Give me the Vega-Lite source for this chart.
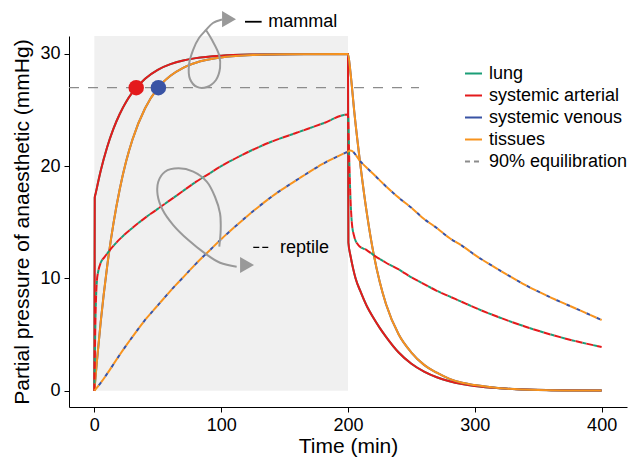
{
  "$schema": "https://vega.github.io/schema/vega-lite/v6.json",
  "width": 558,
  "height": 371,
  "autosize": {"type": "none"},
  "padding": {"left": 69, "top": 36, "right": 5, "bottom": 53},
  "config": {
    "view": {"stroke": null},
    "font": "Liberation Sans",
    "axis": {
      "grid": false,
      "domainColor": "#000000",
      "domainWidth": 1,
      "tickColor": "#000000",
      "tickSize": 5,
      "labelColor": "#000000",
      "titleColor": "#000000",
      "labelFontSize": 18,
      "titleFontSize": 21,
      "titleFontWeight": "normal",
      "labelPadding": 4
    }
  },
  "datasets": {
    "ma": [
      {"t":0,"p":0},{"t":0.3,"p":17.2},{"t":1,"p":17.56},{"t":5,"p":19.59},{"t":10,"p":21.66},{"t":15,"p":23.32},{"t":20,"p":24.65},{"t":25,"p":25.72},{"t":30,"p":26.57},{"t":40,"p":27.8},{"t":50,"p":28.59},{"t":60,"p":29.09},{"t":70,"p":29.42},{"t":80,"p":29.63},{"t":100,"p":29.85},{"t":125,"p":29.95},{"t":150,"p":29.98},{"t":200,"p":30},{"t":200.3,"p":13.2},{"t":202,"p":12.0},{"t":204,"p":10.9},{"t":206,"p":10.0},{"t":210,"p":8.8},{"t":215,"p":7.5},{"t":220,"p":6.5},{"t":225,"p":5.6},{"t":230,"p":4.8},{"t":240,"p":3.4},{"t":250,"p":2.4},{"t":260,"p":1.7},{"t":270,"p":1.2},{"t":280,"p":0.85},{"t":290,"p":0.6},{"t":300,"p":0.42},{"t":320,"p":0.21},{"t":340,"p":0.1},{"t":360,"p":0.05},{"t":400,"p":0.01}
    ],
    "mt": [
      {"t":0,"p":0},{"t":2,"p":2.62},{"t":5,"p":6.12},{"t":10,"p":10.99},{"t":15,"p":14.86},{"t":20,"p":17.95},{"t":25,"p":20.41},{"t":30,"p":22.36},{"t":40,"p":25.16},{"t":50,"p":26.96},{"t":60,"p":28.06},{"t":70,"p":28.77},{"t":80,"p":29.22},{"t":100,"p":29.69},{"t":125,"p":29.9},{"t":150,"p":29.97},{"t":200,"p":30},{"t":202,"p":28.3},{"t":205,"p":24.8},{"t":210,"p":19.9},{"t":215,"p":15.7},{"t":220,"p":12.3},{"t":225,"p":9.7},{"t":230,"p":7.7},{"t":240,"p":5.0},{"t":250,"p":3.4},{"t":260,"p":2.3},{"t":270,"p":1.6},{"t":280,"p":1.05},{"t":290,"p":0.7},{"t":300,"p":0.5},{"t":320,"p":0.22},{"t":350,"p":0.07},{"t":400,"p":0.01}
    ],
    "ra": [
      {"t":0,"p":0},{"t":0.5,"p":4},{"t":1,"p":7},{"t":1.5,"p":8.8},{"t":2,"p":9.8},{"t":3,"p":10.6},{"t":5,"p":11.4},{"t":8,"p":11.9},{"t":15,"p":12.9},{"t":20,"p":13.5},{"t":30,"p":14.5},{"t":40,"p":15.4},{"t":50,"p":16.2},{"t":60,"p":17},{"t":70,"p":17.8},{"t":80,"p":18.6},{"t":90,"p":19.3},{"t":100,"p":20},{"t":120,"p":21.2},{"t":140,"p":22.2},{"t":160,"p":23},{"t":180,"p":23.8},{"t":200,"p":24.6},{"t":201,"p":20.5},{"t":202,"p":17},{"t":203,"p":15},{"t":205,"p":13.7},{"t":208,"p":13},{"t":215,"p":12.5},{"t":220,"p":12.1},{"t":230,"p":11.4},{"t":240,"p":10.8},{"t":250,"p":10.1},{"t":260,"p":9.5},{"t":270,"p":8.9},{"t":280,"p":8.4},{"t":290,"p":7.9},{"t":300,"p":7.4},{"t":320,"p":6.5},{"t":340,"p":5.7},{"t":360,"p":5},{"t":380,"p":4.4},{"t":400,"p":3.9}
    ],
    "rt": [
      {"t":0,"p":0},{"t":5,"p":0.7},{"t":10,"p":1.5},{"t":20,"p":3.2},{"t":30,"p":4.8},{"t":40,"p":6.3},{"t":50,"p":7.6},{"t":60,"p":8.9},{"t":70,"p":10.1},{"t":80,"p":11.3},{"t":90,"p":12.4},{"t":100,"p":13.5},{"t":120,"p":15.5},{"t":140,"p":17.3},{"t":160,"p":18.8},{"t":180,"p":20.2},{"t":200,"p":21.3},{"t":202,"p":21.4},{"t":210,"p":20.4},{"t":220,"p":19.3},{"t":230,"p":18.2},{"t":240,"p":17.2},{"t":250,"p":16.3},{"t":260,"p":15.3},{"t":270,"p":14.5},{"t":280,"p":13.6},{"t":290,"p":12.9},{"t":300,"p":12.1},{"t":320,"p":10.7},{"t":340,"p":9.4},{"t":360,"p":8.3},{"t":380,"p":7.3},{"t":400,"p":6.3}
    ],
    "arrows": [
      {"a":"m","i":0,"t":88.0,"p":32.13},{"a":"m","i":1,"t":92.8,"p":31.24},{"a":"m","i":2,"t":98.4,"p":29.9},{"a":"m","i":3,"t":99.1,"p":28.75},{"a":"m","i":4,"t":95.9,"p":27.68},{"a":"m","i":5,"t":88.8,"p":27.06},{"a":"m","i":6,"t":80.9,"p":27.06},{"a":"m","i":7,"t":75.4,"p":27.77},{"a":"m","i":8,"t":74.6,"p":29.02},{"a":"m","i":9,"t":77.8,"p":30.35},{"a":"m","i":10,"t":82.5,"p":31.42},{"a":"m","i":11,"t":88.0,"p":32.13},{"a":"m","i":12,"t":93.5,"p":32.76},{"a":"m","i":13,"t":100.6,"p":33.07},
      {"a":"r","i":0,"t":98.5,"p":12.83},{"a":"r","i":1,"t":99.6,"p":14.31},{"a":"r","i":2,"t":99.1,"p":15.8},{"a":"r","i":3,"t":95.1,"p":17.28},{"a":"r","i":4,"t":88.6,"p":18.62},{"a":"r","i":5,"t":78.0,"p":19.51},{"a":"r","i":6,"t":66.2,"p":19.81},{"a":"r","i":7,"t":55.7,"p":19.51},{"a":"r","i":8,"t":50.4,"p":18.62},{"a":"r","i":9,"t":49.9,"p":17.43},{"a":"r","i":10,"t":53.9,"p":16.1},{"a":"r","i":11,"t":62.2,"p":14.76},{"a":"r","i":12,"t":74.1,"p":13.42},{"a":"r","i":13,"t":87.2,"p":12.24},{"a":"r","i":14,"t":99.1,"p":11.4},{"a":"r","i":15,"t":112.2,"p":11.05}
    ]
  },
  "encoding": {
    "x": {"field": "t", "type": "quantitative", "scale": {"domain": [-20, 420], "nice": false, "zero": false}, "axis": {"values": [0, 100, 200, 300, 400], "title": "Time (min)", "titlePadding": 1}},
    "y": {"field": "p", "type": "quantitative", "scale": {"domain": [-1.452, 31.6], "nice": false, "zero": false}, "axis": {"values": [0, 10, 20, 30], "title": "Partial pressure of anaesthetic (mmHg)", "titlePadding": 7}}
  },
  "layer": [
    {
      "data": {"values": [{"t": 0, "t2": 200, "p": 0, "p2": 31.6}]},
      "mark": {"type": "rect", "fill": "#f0f0f0"},
      "encoding": {"x2": {"field": "t2"}, "y2": {"field": "p2"}}
    },
    {
      "data": {"values": [{"t": -20, "t2": 256, "p": 27, "c": "90% equilibration"}]},
      "mark": {"type": "rule", "strokeWidth": 1.2, "strokeOpacity": 0},
      "encoding": {
        "x2": {"field": "t2"},
        "color": {"field": "c", "type": "nominal", "scale": {"domain": ["lung", "systemic arterial", "systemic venous", "tissues", "90% equilibration"], "range": ["#1b9e77", "#e41a1c", "#3953a4", "#f7931e", "#8c8c8c"]},
          "legend": {"orient": "none", "legendX": 395, "legendY": 28, "title": null, "padding": 0, "symbolType": "stroke", "symbolSize": 289, "symbolStrokeWidth": 2, "labelFontSize": 18, "labelColor": "#000000", "labelOffset": 6, "rowPadding": 3, "labelLimit": 400, "encode": {"symbols": {"update": {"strokeOpacity": {"value": 1}}}}}},
        "strokeDash": {"field": "c", "type": "nominal", "scale": {"domain": ["lung", "systemic arterial", "systemic venous", "tissues", "90% equilibration"], "range": [[1, 0], [1, 0], [1, 0], [1, 0], [5, 4]]},
          "legend": {"orient": "none", "legendX": 395, "legendY": 28, "title": null, "padding": 0, "symbolType": "stroke", "symbolSize": 289, "symbolStrokeWidth": 2, "labelFontSize": 18, "labelColor": "#000000", "labelOffset": 6, "rowPadding": 3, "labelLimit": 400, "encode": {"symbols": {"update": {"strokeOpacity": {"value": 1}}}}}}
      }
    },
    {
      "data": {"values": [{"t": -20, "t2": 256, "p": 27}]},
      "mark": {"type": "rule", "strokeWidth": 1.2, "strokeDash": [10, 9], "color": "#8c8c8c"},
      "encoding": {"x2": {"field": "t2"}}
    },
    {
      "data": {"name": "ma"},
      "mark": {"type": "line", "strokeWidth": 2, "interpolate": "monotone"},
      "encoding": {"color": {"datum": "lung", "legend": null, "scale": {"domain": ["lung", "systemic arterial", "systemic venous", "tissues", "90% equilibration"], "range": ["#1b9e77", "#e41a1c", "#3953a4", "#f7931e", "#8c8c8c"]}}}
    },
    {
      "data": {"name": "ma"},
      "mark": {"type": "line", "strokeWidth": 2, "interpolate": "monotone"},
      "encoding": {"color": {"datum": "systemic arterial", "legend": null, "scale": {"domain": ["lung", "systemic arterial", "systemic venous", "tissues", "90% equilibration"], "range": ["#1b9e77", "#e41a1c", "#3953a4", "#f7931e", "#8c8c8c"]}}}
    },
    {
      "data": {"name": "mt"},
      "mark": {"type": "line", "strokeWidth": 2, "interpolate": "monotone"},
      "encoding": {"color": {"datum": "systemic venous", "legend": null, "scale": {"domain": ["lung", "systemic arterial", "systemic venous", "tissues", "90% equilibration"], "range": ["#1b9e77", "#e41a1c", "#3953a4", "#f7931e", "#8c8c8c"]}}}
    },
    {
      "data": {"name": "mt"},
      "mark": {"type": "line", "strokeWidth": 2, "interpolate": "monotone"},
      "encoding": {"color": {"datum": "tissues", "legend": null, "scale": {"domain": ["lung", "systemic arterial", "systemic venous", "tissues", "90% equilibration"], "range": ["#1b9e77", "#e41a1c", "#3953a4", "#f7931e", "#8c8c8c"]}}}
    },
    {
      "data": {"name": "ra"},
      "mark": {"type": "line", "strokeWidth": 2, "interpolate": "monotone", "strokeDash": [4, 7], "strokeDashOffset": 4},
      "encoding": {"color": {"datum": "lung", "legend": null, "scale": {"domain": ["lung", "systemic arterial", "systemic venous", "tissues", "90% equilibration"], "range": ["#1b9e77", "#e41a1c", "#3953a4", "#f7931e", "#8c8c8c"]}}}
    },
    {
      "data": {"name": "ra"},
      "mark": {"type": "line", "strokeWidth": 2, "interpolate": "monotone", "strokeDash": [7, 4]},
      "encoding": {"color": {"datum": "systemic arterial", "legend": null, "scale": {"domain": ["lung", "systemic arterial", "systemic venous", "tissues", "90% equilibration"], "range": ["#1b9e77", "#e41a1c", "#3953a4", "#f7931e", "#8c8c8c"]}}}
    },
    {
      "data": {"name": "rt"},
      "mark": {"type": "line", "strokeWidth": 2, "interpolate": "monotone", "strokeDash": [4, 7], "strokeDashOffset": 4},
      "encoding": {"color": {"datum": "systemic venous", "legend": null, "scale": {"domain": ["lung", "systemic arterial", "systemic venous", "tissues", "90% equilibration"], "range": ["#1b9e77", "#e41a1c", "#3953a4", "#f7931e", "#8c8c8c"]}}}
    },
    {
      "data": {"name": "rt"},
      "mark": {"type": "line", "strokeWidth": 2, "interpolate": "monotone", "strokeDash": [7, 4]},
      "encoding": {"color": {"datum": "tissues", "legend": null, "scale": {"domain": ["lung", "systemic arterial", "systemic venous", "tissues", "90% equilibration"], "range": ["#1b9e77", "#e41a1c", "#3953a4", "#f7931e", "#8c8c8c"]}}}
    },
    {
      "data": {"values": [{"t": 33, "p": 27, "c": "systemic arterial"}, {"t": 50.5, "p": 27, "c": "systemic venous"}]},
      "mark": {"type": "point", "filled": true, "size": 240, "opacity": 1},
      "encoding": {"color": {"field": "c", "type": "nominal", "legend": null, "scale": {"domain": ["lung", "systemic arterial", "systemic venous", "tissues", "90% equilibration"], "range": ["#1b9e77", "#e41a1c", "#3953a4", "#f7931e", "#8c8c8c"]}}}
    },
    {
      "data": {"name": "arrows"},
      "mark": {"type": "line", "strokeWidth": 2, "color": "#999999", "interpolate": "catmull-rom"},
      "encoding": {"detail": {"field": "a"}, "order": {"field": "i", "type": "quantitative"}}
    },
    {
      "data": {"values": [{"t": 106.2, "p": 33.1}, {"t": 120.4, "p": 11.2}]},
      "mark": {"type": "point", "shape": "triangle-right", "filled": true, "size": 260, "color": "#999999", "opacity": 1},
      "encoding": {}
    },
    {
      "data": {"values": [{"t": 118.8, "t2": 131.9, "p": 32.87}]},
      "mark": {"type": "rule", "strokeWidth": 1.8, "color": "#000000"},
      "encoding": {"x2": {"field": "t2"}}
    },
    {
      "data": {"values": [{"t": 125.3, "t2": 138.5, "p": 12.77}]},
      "mark": {"type": "rule", "strokeWidth": 1.3, "color": "#000000", "strokeDash": [6, 3]},
      "encoding": {"x2": {"field": "t2"}}
    },
    {
      "data": {"values": [{"t": 137.2, "p": 32.87, "txt": "mammal"}, {"t": 146.4, "p": 12.69, "txt": "reptile"}]},
      "mark": {"type": "text", "align": "left", "baseline": "middle", "fontSize": 18, "color": "#000000"},
      "encoding": {"text": {"field": "txt"}}
    }
  ]
}
